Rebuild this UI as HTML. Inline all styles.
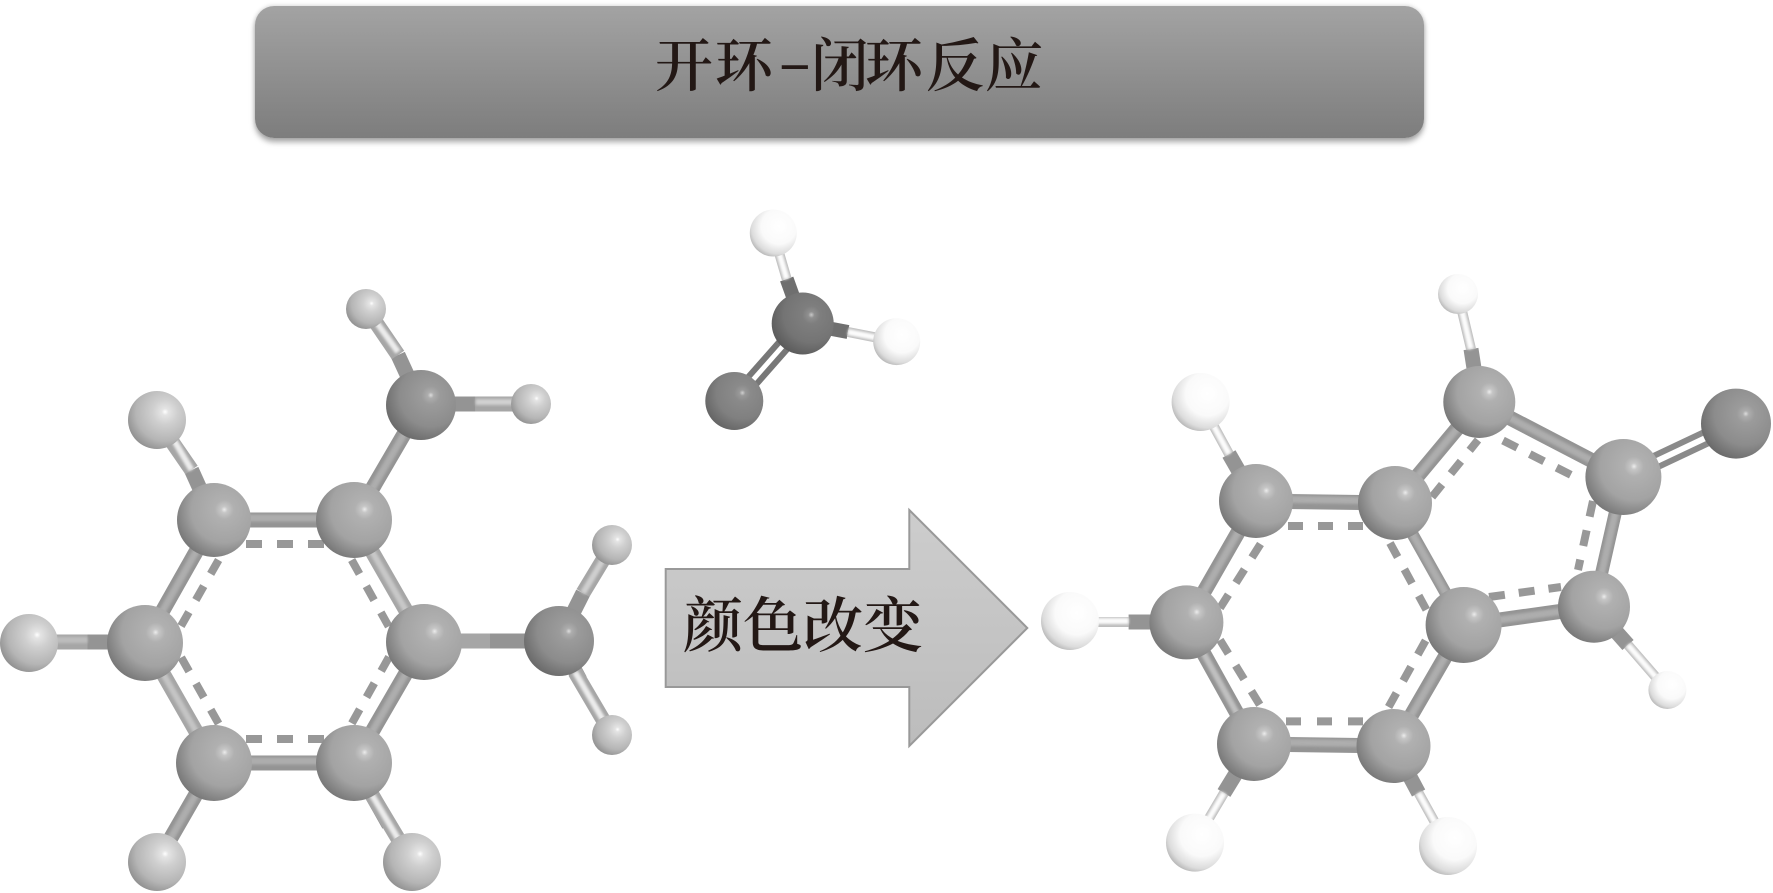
<!DOCTYPE html>
<html lang="zh"><head><meta charset="utf-8"><title>开环-闭环反应</title>
<style>
html,body{margin:0;padding:0;background:#fff;width:1773px;height:893px;overflow:hidden}
svg{display:block;position:absolute;left:0;top:0}
.box{position:absolute;left:255px;top:6px;width:1169px;height:132px;border-radius:19px;background:linear-gradient(#a3a3a3,#7d7d7d);box-shadow:0 4px 6px rgba(0,0,0,.35),0 -1px 4px rgba(0,0,0,.12)}
.t{font-family:"Liberation Serif","Noto Serif CJK SC",serif;fill:#231815}
line{stroke-linecap:butt}
.o{stroke:#949494;stroke-width:15}.i{stroke:#adadad;stroke-width:7;filter:url(#b)}
.lo{stroke:#a6a6a6;stroke-width:15}.li{stroke:#ececec;stroke-width:6;filter:url(#b)}
.d{stroke:#989898;stroke-width:8;stroke-dasharray:16 14}
.wo{stroke:#bcbcbc;stroke-width:10}.wi{stroke:#fcfcfc;stroke-width:6;filter:url(#b)}
.n{stroke:#6f6f6f;stroke-width:14}
.db{stroke:#8a8a8a;stroke-width:6}
</style></head><body>
<div class="box"></div>
<svg width="1773" height="893" viewBox="0 0 1773 893" xmlns="http://www.w3.org/2000/svg">
<defs>
<filter id="b" filterUnits="userSpaceOnUse" x="0" y="0" width="1773" height="893"><feGaussianBlur stdDeviation="1.3"/></filter>
<radialGradient id="c" cx=".64" cy=".36" r=".72"><stop offset="0" stop-color="#ececec"/><stop offset=".06" stop-color="#c6c6c6"/><stop offset=".18" stop-color="#b0b0b0"/><stop offset=".62" stop-color="#a3a3a3"/><stop offset="1" stop-color="#737373"/></radialGradient>
<radialGradient id="k" cx=".64" cy=".36" r=".72"><stop offset="0" stop-color="#dcdcdc"/><stop offset=".06" stop-color="#adadad"/><stop offset=".18" stop-color="#9b9b9b"/><stop offset=".62" stop-color="#8c8c8c"/><stop offset="1" stop-color="#666"/></radialGradient>
<radialGradient id="m" cx=".64" cy=".36" r=".72"><stop offset="0" stop-color="#c8c8c8"/><stop offset=".07" stop-color="#8f8f8f"/><stop offset=".2" stop-color="#7e7e7e"/><stop offset=".62" stop-color="#747474"/><stop offset="1" stop-color="#585858"/></radialGradient>
<radialGradient id="o2" cx=".64" cy=".36" r=".72"><stop offset="0" stop-color="#d0d0d0"/><stop offset=".07" stop-color="#999"/><stop offset=".2" stop-color="#8a8a8a"/><stop offset=".62" stop-color="#808080"/><stop offset="1" stop-color="#626262"/></radialGradient>
<radialGradient id="h" cx=".64" cy=".36" r=".72"><stop offset="0" stop-color="#fff"/><stop offset=".08" stop-color="#e4e4e4"/><stop offset=".3" stop-color="#cfcfcf"/><stop offset=".7" stop-color="#b5b5b5"/><stop offset="1" stop-color="#8c8c8c"/></radialGradient>
<radialGradient id="w" cx=".62" cy=".36" r=".75"><stop offset="0" stop-color="#fff"/><stop offset=".5" stop-color="#fafafa"/><stop offset=".78" stop-color="#dcdcdc"/><stop offset="1" stop-color="#a0a0a0"/></radialGradient>
<linearGradient id="ar" x1="0" y1="0" x2="0" y2="1"><stop offset="0" stop-color="#cdcdcd"/><stop offset="1" stop-color="#bcbcbc"/></linearGradient>
</defs>

<text class="t" font-size="58" y="86" font-weight="600">
<tspan x="655">开</tspan><tspan x="715">环</tspan><tspan x="811">闭</tspan><tspan x="865">环</tspan><tspan x="926">反</tspan><tspan x="985">应</tspan></text>
<text class="t" font-size="56" transform="translate(778,79) scale(1.8,.9)" font-weight="400">-</text>

<!-- Arrow -->
<polygon points="665.7,569 909.3,569 909.3,510 1027.3,628 909.3,746 909.3,687 665.7,687" fill="url(#ar)" stroke="#999" stroke-width="2"/>
<text class="t" font-size="60" y="647" font-weight="600" x="683">颜色改变</text>

<!-- Left molecule bonds -->
<g>
<line class="d" x1="246" y1="544" x2="324" y2="544" style="stroke-dasharray:16 15"/>
<line class="d" x1="246" y1="739" x2="324" y2="739" style="stroke-dasharray:16 15"/>
<line class="d" x1="218.6" y1="560" x2="181" y2="626"/>
<line class="d" x1="351.7" y1="560" x2="389" y2="627"/>
<line class="d" x1="389" y1="657" x2="351.7" y2="723.6"/>
<line class="d" x1="218.6" y1="723.6" x2="181" y2="657"/>
<line class="o" x1="214" y1="520" x2="354" y2="520"/><line class="i" x1="214" y1="518" x2="354" y2="518"/>
<line class="o" x1="214" y1="763" x2="354" y2="763"/><line class="i" x1="214" y1="761" x2="354" y2="761"/>
<line class="o" x1="214" y1="520" x2="145" y2="642"/><line class="i" x1="214" y1="520" x2="145" y2="642"/>
<line class="lo" x1="354" y1="520" x2="424" y2="642"/><line class="li" x1="354" y1="520" x2="424" y2="642" style="stroke:#c8c8c8"/>
<line class="o" x1="424" y1="642" x2="354" y2="763"/><line class="i" x1="424" y1="642" x2="354" y2="763"/>
<line class="lo" x1="145" y1="642" x2="214" y2="763"/><line class="li" x1="145" y1="642" x2="214" y2="763" style="stroke:#c4c4c4"/>
<line class="o" x1="354" y1="520" x2="421" y2="405"/><line class="i" x1="354" y1="520" x2="421" y2="405"/>
<line class="lo" x1="424" y1="641" x2="490" y2="641"/>
<line class="o" x1="490" y1="641" x2="559" y2="641"/>
<!-- H bonds -->
<line class="o" x1="214" y1="520" x2="191.5" y2="470"/><line class="lo" x1="191.5" y1="470" x2="157" y2="420"/><line class="li" x1="191.5" y1="470" x2="165" y2="425"/>
<line class="o" x1="145" y1="642" x2="87.5" y2="642"/><line class="lo" x1="87.5" y1="642" x2="29" y2="642"/><line class="li" x1="87.5" y1="640" x2="29" y2="640" style="stroke:#bdbdbd"/>
<line class="o" x1="214" y1="763" x2="157" y2="862"/><line class="i" x1="214" y1="763" x2="157" y2="862"/>
<line class="o" x1="354" y1="763" x2="389" y2="825"/><line class="lo" x1="372" y1="795" x2="412" y2="862"/><line class="li" x1="372" y1="795" x2="412" y2="862"/>
<line class="o" x1="421" y1="405" x2="398" y2="355"/><line class="lo" x1="398" y1="355" x2="366" y2="308"/><line class="li" x1="398" y1="352" x2="366" y2="308"/>
<line class="o" x1="421" y1="404" x2="475.6" y2="404"/><line class="lo" x1="475.6" y1="404" x2="531" y2="404"/><line class="li" x1="475.6" y1="402" x2="531" y2="402" style="stroke:#d0d0d0"/>
<line class="o" x1="559" y1="641" x2="583" y2="593"/><line class="lo" x1="583" y1="593" x2="612" y2="545"/><line class="li" x1="583" y1="593" x2="612" y2="545" style="stroke:#cfcfcf"/>
<line class="o" x1="559" y1="641" x2="580" y2="680"/><line class="lo" x1="575" y1="672" x2="612" y2="735"/><line class="li" x1="575" y1="672" x2="612" y2="735"/>
</g>
<!-- Left molecule atoms -->
<g>
<circle cx="214" cy="520" r="37" fill="url(#c)"/><circle cx="354" cy="520" r="38" fill="url(#c)"/>
<circle cx="424" cy="642" r="38" fill="url(#c)"/><circle cx="354" cy="763" r="38" fill="url(#c)"/>
<circle cx="214" cy="763" r="38" fill="url(#c)"/><circle cx="145" cy="643" r="38" fill="url(#c)"/>
<circle cx="157" cy="420" r="29" fill="url(#h)"/><circle cx="29" cy="643" r="29" fill="url(#h)"/>
<circle cx="157" cy="862" r="29" fill="url(#h)"/><circle cx="412" cy="862" r="29" fill="url(#h)"/>
<circle cx="421" cy="405" r="35" fill="url(#k)"/><circle cx="366" cy="309" r="20" fill="url(#h)"/><circle cx="531" cy="404" r="20" fill="url(#h)"/>
<circle cx="559" cy="641" r="35" fill="url(#k)"/><circle cx="612" cy="545" r="20" fill="url(#h)"/><circle cx="612" cy="735" r="20" fill="url(#h)"/>
</g>

<!-- Small molecule -->
<g>
<line class="db" style="stroke:#777" x1="806.8" y1="327" x2="738.4" y2="404.6"/>
<line class="db" style="stroke:#777" x1="798.6" y1="320" x2="730.2" y2="397.4"/>
<line class="n" x1="802.7" y1="323.5" x2="786.7" y2="279"/><line class="wo" x1="786.7" y1="279" x2="773.3" y2="233"/><line class="wi" x1="786.7" y1="279" x2="773.3" y2="233"/>
<line class="n" x1="802.7" y1="323.5" x2="848" y2="332"/><line class="wo" x1="848" y1="332" x2="896.7" y2="341.6"/><line class="wi" x1="848" y1="332" x2="896.7" y2="341.6"/>
<circle cx="802.7" cy="323.5" r="31" fill="url(#m)"/>
<circle cx="734.3" cy="401" r="29" fill="url(#o2)"/>
<circle cx="773.3" cy="233" r="23.5" fill="url(#w)"/><circle cx="896.7" cy="341.6" r="23.5" fill="url(#w)"/>
</g>

<!-- Right molecule bonds -->
<g>
<line class="d" x1="1288" y1="526" x2="1364" y2="526" style="stroke-dasharray:15 15"/>
<line class="d" x1="1286" y1="721.4" x2="1364" y2="721.4" style="stroke-dasharray:15 16"/>
<line class="d" x1="1260.5" y1="544" x2="1220" y2="608"/>
<line class="d" x1="1220" y1="640" x2="1260.5" y2="706"/>
<line class="d" x1="1388.6" y1="707" x2="1426.5" y2="639"/>
<line class="d" x1="1390" y1="543" x2="1426.5" y2="610"/>
<line class="d" x1="1432" y1="497" x2="1478" y2="440"/>
<line class="d" x1="1503" y1="440.5" x2="1577" y2="478"/>
<line class="d" x1="1593" y1="501" x2="1578" y2="570"/>
<line class="d" x1="1489" y1="597" x2="1561" y2="587"/>
<line class="o" x1="1256" y1="501" x2="1395" y2="503"/><line class="i" x1="1256" y1="499" x2="1395" y2="501"/>
<line class="o" x1="1254" y1="744" x2="1393.5" y2="746"/><line class="i" x1="1254" y1="742" x2="1393.5" y2="744"/>
<line class="o" x1="1256" y1="501" x2="1186.4" y2="622.4"/><line class="i" x1="1256" y1="501" x2="1186.4" y2="622.4"/>
<line class="o" x1="1186.4" y1="622.4" x2="1254" y2="744"/><line class="li" x1="1186.4" y1="622.4" x2="1254" y2="744" style="stroke:#c0c0c0"/>
<line class="o" x1="1393.5" y1="746" x2="1463.6" y2="625"/><line class="i" x1="1393.5" y1="746" x2="1463.6" y2="625"/>
<line class="o" x1="1395" y1="503" x2="1463.6" y2="625" style="stroke-width:12"/><line class="i" x1="1395" y1="503" x2="1463.6" y2="625"/>
<line class="o" x1="1395" y1="503" x2="1479.3" y2="402"/><line class="i" x1="1395" y1="503" x2="1479.3" y2="402"/>
<line class="o" x1="1479.3" y1="402" x2="1623.4" y2="477"/><line class="i" x1="1479.3" y1="402" x2="1623.4" y2="477"/>
<line class="o" x1="1623.4" y1="477" x2="1594" y2="606.7" style="stroke-width:13"/><line class="i" x1="1623.4" y1="477" x2="1594" y2="606.7"/>
<line class="o" x1="1463.6" y1="625" x2="1594" y2="606.7"/><line class="i" x1="1463.6" y1="625" x2="1594" y2="606.7"/>
<line class="db" x1="1620.5" y1="471.6" x2="1733.5" y2="418.2"/><line class="db" x1="1625.5" y1="482.4" x2="1738.5" y2="429"/>
<!-- H bonds -->
<line class="o" x1="1256" y1="501" x2="1229" y2="454"/><line class="wo" x1="1229" y1="454" x2="1200.6" y2="402"/><line class="wi" x1="1229" y1="454" x2="1200.6" y2="402"/>
<line class="o" x1="1186.4" y1="622" x2="1128.6" y2="622"/><line class="wo" x1="1128.6" y1="622" x2="1070" y2="622"/><line class="wi" x1="1128.6" y1="621" x2="1070" y2="621"/>
<line class="o" x1="1254" y1="744" x2="1224" y2="793"/><line class="wo" x1="1224" y1="793" x2="1195" y2="842"/><line class="wi" x1="1224" y1="793" x2="1195" y2="842"/>
<line class="o" x1="1393.5" y1="746" x2="1418.6" y2="793"/><line class="wo" x1="1418.6" y1="793" x2="1448" y2="846"/><line class="wi" x1="1418.6" y1="793" x2="1448" y2="846"/>
<line class="o" x1="1479.3" y1="402" x2="1471" y2="349"/><line class="wo" x1="1471" y1="349" x2="1458" y2="294"/><line class="wi" x1="1471" y1="349" x2="1458" y2="294"/>
<line class="o" x1="1594" y1="606.7" x2="1628" y2="645"/><line class="wo" x1="1628" y1="645" x2="1667" y2="690"/><line class="wi" x1="1628" y1="645" x2="1667" y2="690"/>
</g>
<!-- Right molecule atoms -->
<g>
<circle cx="1256" cy="501" r="37" fill="url(#c)"/><circle cx="1395" cy="503" r="37" fill="url(#c)"/>
<circle cx="1186.4" cy="622.4" r="37" fill="url(#c)"/><circle cx="1463.6" cy="625" r="38" fill="url(#c)"/>
<circle cx="1254" cy="744" r="37" fill="url(#c)"/><circle cx="1393.5" cy="746" r="37" fill="url(#c)"/>
<circle cx="1479.3" cy="402" r="36" fill="url(#c)"/><circle cx="1623.4" cy="477" r="38" fill="url(#c)"/>
<circle cx="1594" cy="606.7" r="36" fill="url(#c)"/><circle cx="1736" cy="423.6" r="35" fill="url(#k)"/>
<circle cx="1200.6" cy="402" r="29" fill="url(#w)"/><circle cx="1070" cy="621" r="29" fill="url(#w)"/>
<circle cx="1195" cy="842.6" r="29" fill="url(#w)"/><circle cx="1448" cy="846" r="29" fill="url(#w)"/>
<circle cx="1458" cy="294" r="20" fill="url(#w)"/><circle cx="1667.4" cy="690" r="19" fill="url(#w)"/>
</g>
</svg>
</body></html>
